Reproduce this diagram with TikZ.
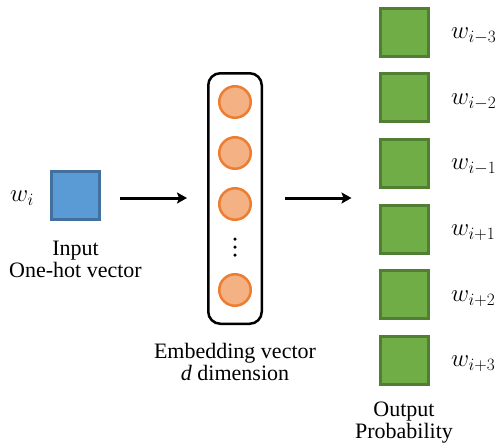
\documentclass[tikz,border=0pt]{standalone}
\usepackage{fontspec}
\setmainfont{Liberation Serif}
\usetikzlibrary{arrows.meta}
\definecolor{blueF}{HTML}{5B9BD5}
\definecolor{blueD}{HTML}{41719C}
\definecolor{greenF}{HTML}{70AD47}
\definecolor{greenD}{HTML}{507E32}
\definecolor{orF}{HTML}{F4B183}
\definecolor{orD}{HTML}{ED7D31}
\tikzset{
  insq/.style={draw=blueD, fill=blueF, line width=3pt, minimum size=48pt, inner sep=0pt},
  outsq/.style={draw=greenD, fill=greenF, line width=3pt, minimum size=48pt, inner sep=0pt},
  unit/.style={circle, draw=orD, fill=orF, line width=2.5pt, minimum size=31.5pt, inner sep=0pt},
  embbox/.style={draw=black, line width=2.5pt, rounded corners=12pt, minimum width=53.5pt, minimum height=250.5pt, inner sep=0pt},
  arr/.style={line width=3pt, -{Stealth[length=10pt,width=11pt,inset=2pt]}},
  wlab/.style={anchor=west, inner sep=0pt, font=\fontsize{26}{30}\selectfont},
  txt/.style={align=center, inner sep=0pt, font=\fontsize{22}{22}\selectfont},
  dot/.style={circle, fill=black, minimum size=3.5pt, inner sep=0pt}
}
\begin{document}
\begin{tikzpicture}[x=1pt,y=-1pt]
\useasboundingbox (0,0) rectangle (501,447);
% input
\node[insq] (in) at (75.5,195.5) {};
\node[wlab] (wi) at (10,198) {$w_i$};
\node[txt, anchor=base] (intxt) at (75.5,277) {Input\\One-hot vector};
% embedding
\node[embbox] (emb) at (235,198.5) {};
\node[unit] (u1) at (235,102) {};
\node[unit] (u2) at (235,153) {};
\node[unit] (u3) at (235,204) {};
\node[dot] (d1) at (235,239) {};
\node[dot] (d2) at (235,247) {};
\node[dot] (d3) at (235,255) {};
\node[unit] (u4) at (235,290) {};
\node[txt, anchor=base] (embtxt) at (235,380) {Embedding vector\\\textit{d} dimension};
% outputs
\node[outsq] (o1) at (404,32) {};
\node[outsq] (o2) at (404,97.5) {};
\node[outsq] (o3) at (404,163) {};
\node[outsq] (o4) at (404,229) {};
\node[outsq] (o5) at (404,294.5) {};
\node[outsq] (o6) at (404,360) {};
\node[wlab] (l1) at (451,36) {$w_{i-3}$};
\node[wlab] (l2) at (451,101.5) {$w_{i-2}$};
\node[wlab] (l3) at (451,167) {$w_{i-1}$};
\node[wlab] (l4) at (451,233) {$w_{i+1}$};
\node[wlab] (l5) at (451,298.5) {$w_{i+2}$};
\node[wlab] (l6) at (451,364) {$w_{i+3}$};
\node[txt, anchor=base] (outtxt) at (404,438) {Output\\Probability};
% arrows
\coordinate (a1s) at (120,198);
\coordinate (a2s) at (285,198);
\draw[arr] (a1s) -- ([xshift=-20pt]emb.west |- a1s);
\draw[arr] (a2s) -- ([xshift=-27pt]o4.west |- a2s);
\end{tikzpicture}
\end{document}
